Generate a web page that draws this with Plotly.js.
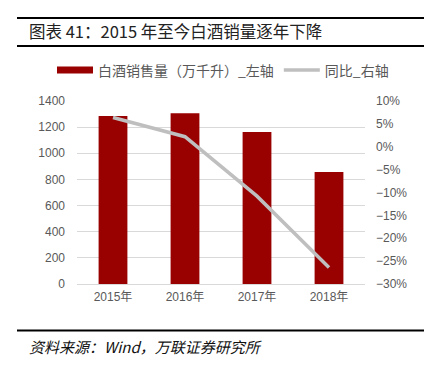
<!DOCTYPE html>
<html><head><meta charset="utf-8">
<script src="https://cdn.plot.ly/plotly-3.0.1.min.js"></script>
<style>html,body{margin:0;padding:0;background:#fff;}#chart{width:424px;height:368px;}</style>
</head><body><div id="chart"></div>
<script>
var categories = ['2015年', '2016年', '2017年', '2018年'];
var salesVolume = [1285, 1307, 1162, 857];
var yoyGrowth = [6.4, 2.2, -10.8, -26.4];
var seriesNames = ['白酒销售量（万千升）_左轴', '同比_右轴'];
var titleText = '图表 41：2015 年至今白酒销量逐年下降';
var sourceText = '资料来源：Wind，万联证券研究所';

var W = 424, H = 368;
var mL = 77, mR = 59, mT = 101, mB = 84;
var pw = W - mL - mR, ph = H - mT - mB;
function px(x) { return (x - mL) / pw; }
function py(y) { return (H - mB - y) / ph; }

var FONT = '"Liberation Sans", "Noto Sans CJK SC", sans-serif';
var red = '#990000', gray = '#BFBFBF';

var traces = [
  {type: 'bar', x: categories, y: salesVolume, marker: {color: red}, showlegend: false, yaxis: 'y', hoverinfo: 'skip'},
  {type: 'scatter', mode: 'lines', x: [null], y: [null], name: seriesNames[0], line: {color: red, width: 7}, showlegend: true},
  {type: 'scatter', mode: 'lines', x: categories, y: yoyGrowth, name: seriesNames[1], yaxis: 'y2', line: {color: gray, width: 3.5}}
];

var layout = {
  width: W, height: H,
  margin: {l: mL, r: mR, t: mT, b: mB, pad: 0},
  paper_bgcolor: '#fff', plot_bgcolor: '#fff',
  font: {family: FONT, size: 12, color: '#595959'},
  bargap: 0.6,
  showlegend: true,
  legend: {orientation: 'h', x: px(52), y: py(70.5), xanchor: 'left', yanchor: 'middle',
           font: {size: 14, color: '#595959', family: '"Noto Sans CJK SC", sans-serif'},
           itemwidth: 36, tracegroupgap: 0, bgcolor: 'rgba(0,0,0,0)'},
  xaxis: {type: 'category', showgrid: false, showline: false, zeroline: false, ticks: '',
          tickfont: {size: 12, color: '#595959'}, ticklabelstandoff: 4},
  yaxis: {range: [0, 1400], dtick: 200, showgrid: true, gridcolor: '#D9D9D9', gridwidth: 1,
          zeroline: true, zerolinecolor: '#D9D9D9', zerolinewidth: 1, showline: false, ticks: '',
          tickfont: {size: 12, color: '#595959'}, ticklabelstandoff: 11},
  yaxis2: {range: [-30, 10], dtick: 5, overlaying: 'y', side: 'right', showgrid: false, zeroline: false,
           showline: false, ticks: '', ticksuffix: '%', tickfont: {size: 12, color: '#595959'},
           ticklabelstandoff: 10},
  shapes: [
    {type: 'line', xref: 'paper', yref: 'paper', x0: px(17), x1: px(424), y0: py(18), y1: py(18), line: {color: '#000', width: 2}},
    {type: 'line', xref: 'paper', yref: 'paper', x0: px(17), x1: px(424), y0: py(46), y1: py(46), line: {color: '#000', width: 2}},
    {type: 'line', xref: 'paper', yref: 'paper', x0: px(17), x1: px(424), y0: py(330.5), y1: py(330.5), line: {color: '#000', width: 2}}
  ],
  annotations: [
    {xref: 'paper', yref: 'paper', x: px(27), y: py(31), xanchor: 'left', yanchor: 'middle', showarrow: false,
     text: titleText, font: {family: '"Noto Sans CJK SC", sans-serif', size: 16.5, color: '#222'}},
    {xref: 'paper', yref: 'paper', x: px(27), y: py(346), xanchor: 'left', yanchor: 'middle', showarrow: false,
     text: '<i>' + sourceText + '</i>', font: {family: '"Noto Sans CJK SC", sans-serif', size: 15, color: '#111'}}
  ]
};

Plotly.newPlot('chart', traces, layout, {staticPlot: true, displayModeBar: false});
</script></body></html>
